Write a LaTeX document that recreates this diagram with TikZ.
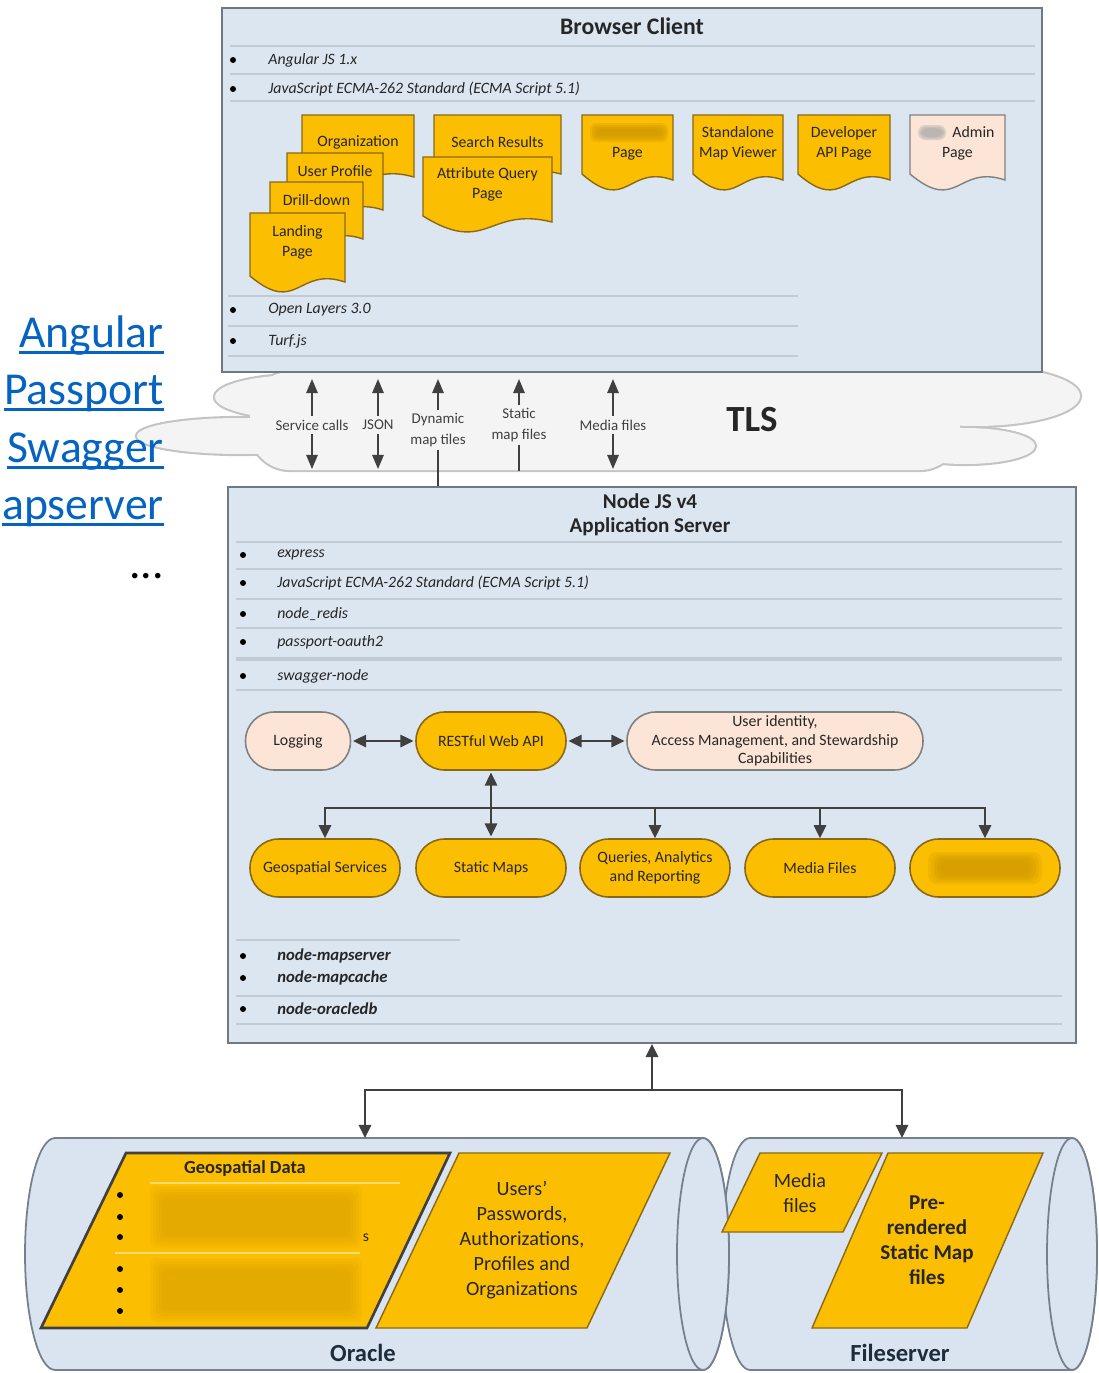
\documentclass[tikz,border=0pt]{standalone}
\usepackage{fontspec}
\setmainfont{Carlito}
\usetikzlibrary{arrows.meta}

\definecolor{boxblue}{RGB}{219,230,241}
\definecolor{boxline}{RGB}{112,120,130}
\definecolor{rowgray}{RGB}{193,203,214}
\definecolor{gold}{RGB}{252,190,0}
\definecolor{goldline}{RGB}{138,104,24}
\definecolor{blurgold}{RGB}{200,146,0}
\definecolor{peach}{RGB}{252,229,214}
\definecolor{ink}{RGB}{38,38,38}
\definecolor{arrowink}{RGB}{64,64,64}
\definecolor{cloudfill}{RGB}{244,244,244}
\definecolor{cloudline}{RGB}{196,196,196}
\definecolor{linkblue}{RGB}{5,99,193}
\definecolor{drumfill}{RGB}{217,228,240}
\definecolor{drumline}{RGB}{118,128,140}
\definecolor{dbink}{RGB}{30,44,60}

\tikzset{
  box/.style={draw=boxline, fill=boxblue, line width=1.2pt, inner sep=0pt},
  rowline/.style={draw=rowgray, line width=1.1pt},
  rowtext/.style={anchor=west, inner sep=0pt, text=ink, font=\fontsize{9}{11}\selectfont\itshape},
  libtext/.style={rowtext, font=\fontsize{9.5}{11}\selectfont\bfseries\itshape},
  bulletdot/.style={circle, fill=black, inner sep=0pt, minimum size=3.4pt},
  docpage/.style={draw=goldline, fill=gold, line width=0.8pt},
  adminpage/.style={draw=gray, fill=peach, line width=0.8pt},
  pagetext/.style={align=center, inner sep=1pt, text=ink, font=\fontsize{9}{11.3}\selectfont},
  pill/.style={rectangle, rounded corners=0.57cm, draw=goldline, fill=gold, line width=0.9pt,
    minimum height=1.16cm, minimum width=3cm, inner sep=1pt, align=center, text=ink,
    font=\fontsize{9}{11}\selectfont},
  softpill/.style={pill, draw=gray, fill=peach},
  wire/.style={draw=arrowink, line width=1.3pt},
  oneway/.style={wire, -{Triangle[length=7.5pt,width=7pt]}},
  twoway/.style={wire, {Triangle[length=7.5pt,width=7pt]}-{Triangle[length=7.5pt,width=7pt]}, shorten <=1pt, shorten >=1pt},
  thinwire/.style={draw=arrowink, line width=0.9pt},
  upway/.style={thinwire, -{Triangle[length=8pt,width=6.5pt]}},
  cloudtext/.style={align=center, inner sep=2pt, text=arrowink, font=\fontsize{8.5}{11.5}\selectfont},
  slab/.style={draw=goldline, fill=gold, line width=0.8pt},
  drum/.style={draw=drumline, fill=drumfill, line width=1pt},
  dblabel/.style={text=dbink, font=\fontsize{14}{16}\selectfont\bfseries},
  weblink/.style={anchor=base east, inner sep=0pt, text=linkblue, font=\fontsize{26}{30}\selectfont},
}

% page sheet with a wavy lower edge
\newcommand{\webpage}[8]{%
  \draw[#6] (#2,#3) -- (#4,#3) -- (#4,#5-8)
    .. controls ({(#2+#4)/2},#5-24) and ({(#2+#4)/2},#5+26) .. (#2,#5-14) -- cycle;
  \node[pagetext] (#1) at ({(#2+#4)/2},#7) {#8};
}

\begin{document}
\begin{tikzpicture}[x=0.02cm, y=-0.02cm]
% sheet
\useasboundingbox (0,0) rectangle (1099,1373);
\fill[white] (0,0) rectangle (1099,1373);

% TLS cloud: edge pass, then fill pass
\draw[cloudline, line width=2.4pt, rounded corners=0.8cm] (250,372) rectangle (960,470);
\foreach \cx/\cy/\rx/\ry in {975/396/2.1/0.6, 965/446/1.4/0.36, 300/397/1.7/0.44, 240/436/2.06/0.36}
  \draw[cloudline, line width=2.4pt] (\cx,\cy) ellipse [x radius=\rx cm, y radius=\ry cm];
\fill[cloudfill, rounded corners=0.8cm] (250,372) rectangle (960,470);
\foreach \cx/\cy/\rx/\ry in {975/396/2.1/0.6, 965/446/1.4/0.36, 300/397/1.7/0.44, 240/436/2.06/0.36}
  \fill[cloudfill] (\cx,\cy) ellipse [x radius=\rx cm, y radius=\ry cm];

% links on the left
\node[weblink] (angular) at (164,347) {Angular};
\node[weblink] (passport) at (164,404) {Passport};
\node[weblink] (swagger) at (164,462) {Swagger};
\node[weblink] (mapsrv) at (164,519) {apserver};
\foreach \n in {angular,passport,swagger,mapsrv}
  \draw[linkblue, line width=1.5pt] ([yshift=-0.11cm]\n.base west) -- ([yshift=-0.11cm]\n.base east);
\node[anchor=base east, inner sep=0pt, font=\fontsize{26}{30}\selectfont] (more) at (164,578) {...};

% browser client
\node[box, minimum width=16.4cm, minimum height=7.28cm] (browser) at (632,190) {};
\node[text=ink, font=\fontsize{13.5}{15}\selectfont\bfseries] (browsertitle) at (632,26) {Browser Client};
\foreach \y in {46,74,101} \draw[rowline] (230,\y) -- (1035,\y);
\foreach \y in {296,326,356} \draw[rowline] (228,\y) -- (798,\y);
\foreach \y/\t [count=\i] in {60/{Angular JS 1.x}, 89/{JavaScript ECMA-262 Standard (ECMA Script 5.1)},
    310/{Open Layers 3.0}, 341/{Turf.js}} {
  \node[bulletdot] (bdot\i) at (233,\y) {};
  \node[rowtext] (brow\i) at (268,\y) {\t};
}

% pages, back to front
\webpage{orgpage}{302}{115}{414}{185}{docpage}{142}{Organization}
\webpage{profilepage}{287}{153}{383}{218}{docpage}{171}{User Profile}
\webpage{drillpage}{270}{182}{363}{247}{docpage}{200}{Drill-down}
\webpage{landingpage}{250}{213}{345}{290}{docpage}{242}{Landing\\Page}
\webpage{searchpage}{434}{115}{561}{182}{docpage}{142}{Search Results}
\webpage{attrpage}{423}{157}{552}{230}{docpage}{184}{Attribute Query\\Page}
\webpage{maskedpage}{582}{115}{673}{188}{docpage}{154}{Page}
\webpage{viewerpage}{693}{115}{783}{188}{docpage}{143}{Standalone\\Map Viewer}
\webpage{devpage}{798}{115}{890}{188}{docpage}{143}{Developer\\API Page}
\webpage{adminpage}{910}{115}{1005}{188}{adminpage}{143}{\hspace*{0.64cm}Admin\\Page}
% blurred words
\foreach \k in {0,...,3}
  \fill[blurgold, opacity=0.25, rounded corners=3pt] ({590+2*\k},{123+2*\k}) rectangle ({668-2*\k},{142-2*\k});
\foreach \k in {0,1,2}
  \fill[gray!70, opacity=0.35, rounded corners=4pt] ({918+1.5*\k},{125+1.5*\k}) rectangle ({946-1.5*\k},{140-1.5*\k});

% TLS traffic
\node[cloudtext] (svccalls) at (312,425) {Service calls};
\node[cloudtext] (json) at (378,425) {JSON};
\node[cloudtext] (dyntiles) at (438,430) {Dynamic\\map tiles};
\node[cloudtext] (statfiles) at (519,425) {Static\\map files};
\node[cloudtext] (mediacl) at (613,425) {Media files};
\node[text=ink, font=\fontsize{21}{24}\selectfont\bfseries] (tls) at (752,420) {TLS};

% application server
\node[box, minimum width=16.96cm, minimum height=11.12cm] (server) at (652,765) {};
\node[align=center, text=ink, font=\fontsize{12}{13.6}\selectfont\bfseries] (servertitle) at (650,515) {Node JS v4\\Application Server};
\foreach \y in {542,569,599,628,690,996,1024} \draw[rowline] (236,\y) -- (1062,\y);
\draw[rowline, line width=2.2pt] (236,659) -- (1062,659);
\draw[rowline, line width=0.6pt] (236,940) -- (460,940);
\foreach \y/\t [count=\i] in {555/express, 583/{JavaScript ECMA-262 Standard (ECMA Script 5.1)},
    614/node\_redis, 642/passport-oauth2, 676/swagger-node} {
  \node[bulletdot] (sdot\i) at (243,\y) {};
  \node[rowtext] (srow\i) at (277,\y) {\t};
}
\foreach \y/\t [count=\i] in {956/node-mapserver, 978/node-mapcache, 1009/node-oracledb} {
  \node[bulletdot] (ldot\i) at (243,\y) {};
  \node[libtext] (lib\i) at (277,\y) {\t};
}

% services
\node[softpill, minimum width=2.1cm] (logging) at (298,741) {Logging};
\node[pill] (restapi) at (491,741) {RESTful Web API};
\node[softpill, minimum width=5.92cm, font=\fontsize{9}{10.6}\selectfont] (identity) at (775,741) {User identity,\\Access Management, and Stewardship\\Capabilities};
\node[pill] (geo) at (325,868) {Geospatial Services};
\node[pill] (staticmaps) at (491,868) {Static Maps};
\node[pill] (queries) at (655,868) {Queries, Analytics\\and Reporting};
\node[pill] (mediafiles) at (820,868) {Media Files};
\node[pill] (svcfive) at (985,868) {};
\foreach \k in {0,...,4}
  \fill[blurgold, opacity=0.2, rounded corners=5pt] ({928+3*\k},{852+2*\k}) rectangle ({1042-3*\k},{884-2*\k});

\draw[twoway] (logging) -- (restapi);
\draw[twoway] (restapi) -- (identity);
\draw[twoway] (restapi) -- (staticmaps);
\coordinate (bus) at (491,808);
\foreach \n in {geo,queries,mediafiles,svcfive}
  \draw[oneway] (bus) -| (\n);

% traffic arrows through the cloud
\foreach \n in {svccalls,json,dyntiles,statfiles,mediacl}
  \draw[upway, shorten >=0.12cm] (\n) -- (\n |- browser.south);
\foreach \n in {svccalls,json,mediacl}
  \draw[upway, shorten >=0.34cm] (\n) -- (\n |- server.north);
\draw[thinwire] (dyntiles) -- (dyntiles |- server.north);
\draw[thinwire, shorten >=0.3cm] (statfiles) -- (statfiles |- server.north);

% storage
\draw[drum] (1072,1138) -- (750,1138) arc[start angle=90, end angle=270, x radius=0.56cm, y radius=2.32cm]
  -- (1072,1370) arc[start angle=-90, end angle=90, x radius=0.5cm, y radius=2.32cm] -- cycle;
\draw[drum] (1072,1254) ellipse [x radius=0.5cm, y radius=2.32cm];
\draw[drum] (703,1138) -- (55,1138) arc[start angle=90, end angle=270, x radius=0.6cm, y radius=2.32cm]
  -- (703,1370) arc[start angle=-90, end angle=90, x radius=0.52cm, y radius=2.32cm] -- cycle;
\draw[drum] (703,1254) ellipse [x radius=0.52cm, y radius=2.32cm];

% oracle contents
\draw[slab, draw=arrowink, line width=1.5pt] (126,1153) -- (450,1153) -- (367,1328) -- (41,1328) -- cycle;
\node[text=ink, font=\fontsize{10.5}{12}\selectfont\bfseries] (geodata) at (245,1168) {Geospatial Data};
\foreach \y [count=\i] in {1195,1217,1237,1269,1290,1311}
  \node[bulletdot] (gdot\i) at (120,\y) {};
\foreach \k in {0,...,4} {
  \fill[blurgold, opacity=0.1, rounded corners=4pt] ({150+3*\k},{1186+3*\k}) rectangle ({362-3*\k},{1248-3*\k});
  \fill[blurgold, opacity=0.1, rounded corners=4pt] ({150+3*\k},{1258+3*\k}) rectangle ({362-3*\k},{1322-3*\k});
}
\draw[white, opacity=0.45, line width=1.5pt] (150,1183) -- (400,1183);
\draw[white, opacity=0.45, line width=1.5pt] (115,1253) -- (360,1253);
\node[text=ink, inner sep=0pt, font=\fontsize{9}{10}\selectfont] (geotail) at (366,1238) {s};
\draw[slab] (459,1153) -- (670,1153) -- (587,1328) -- (376,1328) -- cycle;
\node[align=center, text=ink, font=\fontsize{11.5}{14.2}\selectfont] (users) at (522,1240) {Users'\\Passwords,\\Authorizations,\\Profiles and\\Organizations};
\node[dblabel] (oracle) at (363,1353) {Oracle};

% fileserver contents
\draw[slab] (760,1153) -- (882,1153) -- (843,1232) -- (722,1232) -- cycle;
\node[align=center, text=ink, font=\fontsize{11.5}{14}\selectfont] (mediastore) at (800,1193) {Media\\files};
\draw[slab] (888,1153) -- (1043,1153) -- (967,1328) -- (812,1328) -- cycle;
\node[align=center, text=ink, font=\fontsize{12}{14.2}\selectfont\bfseries] (prerendered) at (927,1240) {Pre-\\rendered\\Static Map\\files};
\node[dblabel] (fileserver) at (900,1353) {Fileserver};

% server to storage
\coordinate (hub) at (652,1090);
\coordinate (oracletop) at (365,1138);
\coordinate (filetop) at (902,1138);
\draw[oneway] (hub) -- (server.south);
\draw[oneway] (hub) -| (oracletop);
\draw[oneway] (hub) -| (filetop);
\end{tikzpicture}
\end{document}
